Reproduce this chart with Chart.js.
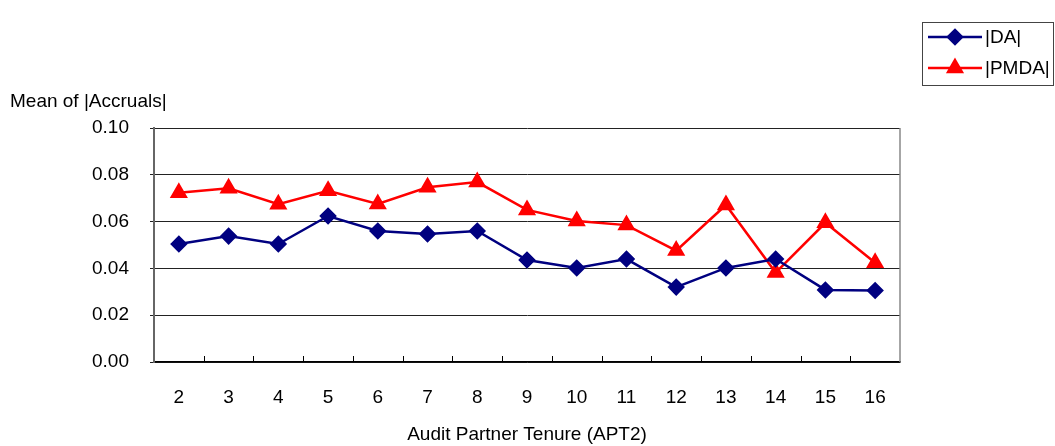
<!DOCTYPE html>
<html>
<head>
<meta charset="utf-8">
<script src="https://cdn.jsdelivr.net/npm/chart.js@4/dist/chart.umd.min.js"></script>
<style>
html,body{margin:0;padding:0;background:#fff;}
#wrap{width:1055px;height:446px;position:relative;}
</style>
</head>
<body>
<div id="wrap"><canvas id="c" width="1055" height="446"></canvas></div>
<script>
const categories = ['2','3','4','5','6','7','8','9','10','11','12','13','14','15','16'];
const daValues   = [0.0504,0.0538,0.0504,0.0624,0.0560,0.0547,0.0560,0.0436,0.0402,0.0440,0.0320,0.0402,0.0440,0.0308,0.0306];
const pmdaValues = [0.0723,0.0742,0.0674,0.0732,0.0675,0.0747,0.0769,0.0650,0.0603,0.0585,0.0476,0.0671,0.0382,0.0595,0.0424];
const seriesNames = ['|DA|','|PMDA|'];
const yTitle = 'Mean of |Accruals|';
const xTitle = 'Audit Partner Tenure (APT2)';

const FONT = "'Liberation Sans', Arial, sans-serif";
const FS = 19;

const extras = {
  id: 'extras',
  afterDraw(chart) {
    const ctx = chart.ctx;
    const a = chart.chartArea;
    const xs = chart.scales.x;
    ctx.save();
    // right border of plot area
    ctx.strokeStyle = '#888';
    ctx.lineWidth = 1.5;
    ctx.beginPath();
    ctx.moveTo(a.right, a.top);
    ctx.lineTo(a.right, a.bottom);
    ctx.stroke();
    // inward category ticks on x axis
    ctx.strokeStyle = '#000';
    ctx.lineWidth = 1;
    for (let i = 1; i < categories.length; i++) {
      const x = Math.round((xs.getPixelForValue(i - 1) + xs.getPixelForValue(i)) / 2) + 0.5;
      ctx.beginPath();
      ctx.moveTo(x, a.bottom);
      ctx.lineTo(x, a.bottom - 6);
      ctx.stroke();
    }
    // y axis title
    ctx.fillStyle = '#000';
    ctx.font = FS + 'px ' + FONT;
    ctx.textAlign = 'left';
    ctx.textBaseline = 'middle';
    ctx.fillText(yTitle, 10, 102);
    // legend
    const lx = 922, ly = 22, lw = 131, lh = 63;
    ctx.strokeStyle = '#444';
    ctx.lineWidth = 1;
    ctx.strokeRect(lx + 0.5, ly + 0.5, lw, lh);
    chart.data.datasets.forEach((ds, i) => {
      const y = ly + 15 + i * 31;
      ctx.strokeStyle = ds.borderColor;
      ctx.lineWidth = ds.borderWidth;
      ctx.beginPath();
      ctx.moveTo(928, y);
      ctx.lineTo(982, y);
      ctx.stroke();
      ctx.fillStyle = ds.pointBackgroundColor;
      ctx.strokeStyle = ds.pointBorderColor;
      Chart.helpers.drawPoint(ctx, {pointStyle: ds.pointStyle, radius: ds.pointRadius, borderWidth: 1, rotation: 0}, 955, y);
      ctx.fillStyle = '#000';
      ctx.font = FS + 'px ' + FONT;
      ctx.textAlign = 'left';
      ctx.textBaseline = 'middle';
      ctx.fillText(ds.label, 985, y + 1);
    });
    ctx.restore();
  }
};

new Chart(document.getElementById('c'), {
  type: 'line',
  data: {
    labels: categories,
    datasets: [
      {
        label: seriesNames[0], data: daValues,
        borderColor: '#000080', backgroundColor: '#000080',
        pointBackgroundColor: '#000080', pointBorderColor: '#000080',
        borderWidth: 2.5, pointStyle: 'rectRot', pointRadius: 7, pointHoverRadius: 7,
        tension: 0, fill: false
      },
      {
        label: seriesNames[1], data: pmdaValues,
        borderColor: '#ff0000', backgroundColor: '#ff0000',
        pointBackgroundColor: '#ff0000', pointBorderColor: '#ff0000',
        borderWidth: 2.5, pointStyle: 'triangle', pointRadius: 8, pointHoverRadius: 8,
        tension: 0, fill: false
      }
    ]
  },
  options: {
    responsive: false,
    animation: false,
    events: [],
    layout: { padding: { left: 0, top: 128, right: 155, bottom: 0 } },
    plugins: { legend: { display: false }, tooltip: { enabled: false }, title: { display: false } },
    scales: {
      x: {
        offset: true,
        grid: { display: false, drawTicks: false, offset: true },
        border: { display: true, color: '#000', width: 1.5 },
        ticks: { color: '#000', font: { family: FONT, size: FS }, padding: 24, maxRotation: 0 },
        title: { display: true, text: xTitle, color: '#000', font: { family: FONT, size: FS }, padding: { top: 0, bottom: 0 } },
        afterFit(s) { s.height = 84; }
      },
      y: {
        min: 0, max: 0.1,
        grid: { color: '#222', lineWidth: 1, drawTicks: true, tickLength: 4 },
        border: { display: true, color: '#666', width: 2 },
        ticks: { stepSize: 0.02, color: '#000', font: { family: FONT, size: FS }, padding: 21,
                 callback: v => Number(v).toFixed(2) },
        afterFit(s) { s.width = 154; }
      }
    }
  },
  plugins: [extras]
});
</script>
</body>
</html>
